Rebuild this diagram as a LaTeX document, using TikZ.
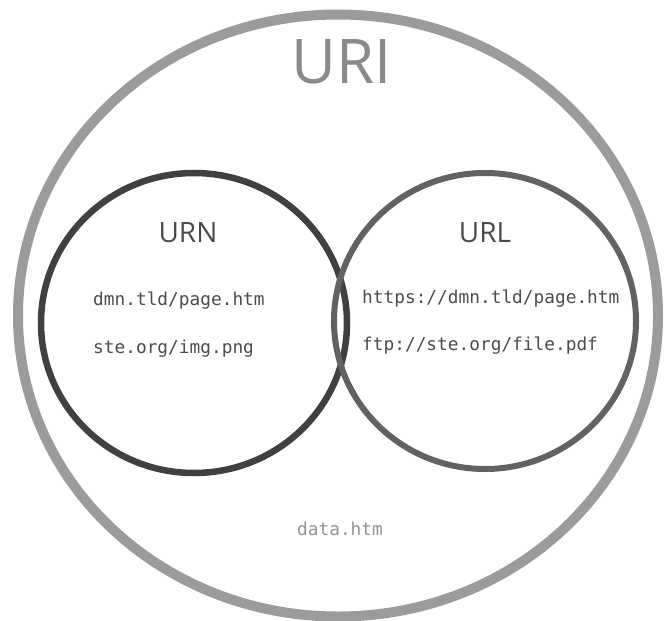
\documentclass[tikz,border=0pt]{standalone}
\usepackage{fontspec}
\setmainfont{Open Sans}
\newfontfamily\monofnt{DejaVu Sans Mono}
\usetikzlibrary{shapes.geometric}
\definecolor{urigray}{HTML}{9B9B9B}
\definecolor{uritext}{HTML}{8A8A8A}
\definecolor{urndark}{HTML}{404040}
\definecolor{urlgray}{HTML}{626262}
\definecolor{labtext}{HTML}{4A4A4A}
\definecolor{codetext}{HTML}{4C4C4C}
\definecolor{datatext}{HTML}{949494}
\tikzset{
  ring/.style={ellipse, inner sep=0pt, outer sep=0pt},
  code/.style={font=\monofnt\fontsize{17.8}{20}\selectfont, text=codetext, inner sep=0pt, anchor=base west},
  setlabel/.style={font=\fontsize{28}{32}\selectfont, text=labtext, inner sep=0pt}
}
\begin{document}
\begin{tikzpicture}[x=1pt,y=1pt]
\useasboundingbox (0,0) rectangle (672,-621);
\node[ring, draw=urigray, line width=10pt, minimum width=640pt, minimum height=602pt] (uri) at (338,-315.5) {};
\node[ring, draw=urndark, line width=6.5pt, minimum width=306pt, minimum height=300pt] (urn) at (194,-323) {};
\node[ring, draw=urlgray, line width=6pt, minimum width=302pt, minimum height=296pt] (url) at (485,-321) {};
\node[font=\fontsize{61.6}{66}\selectfont, text=uritext, inner sep=0pt] (urit) at (342,-62) {URI};
\node[setlabel] (urnt) at (188,-233) {URN};
\node[setlabel] (urlt) at (485,-233) {URL};
\node[code] (c1) at (93,-305) {dmn.tld/page.htm};
\node[code] (c2) at (93,-353) {ste.org/img.png};
\node[code] (c3) at (362,-303) {https://dmn.tld/page.htm};
\node[code] (c4) at (362,-350) {ftp://ste.org/file.pdf};
\node[code, text=datatext, anchor=base] (c5) at (340,-535) {data.htm};
\end{tikzpicture}
\end{document}
